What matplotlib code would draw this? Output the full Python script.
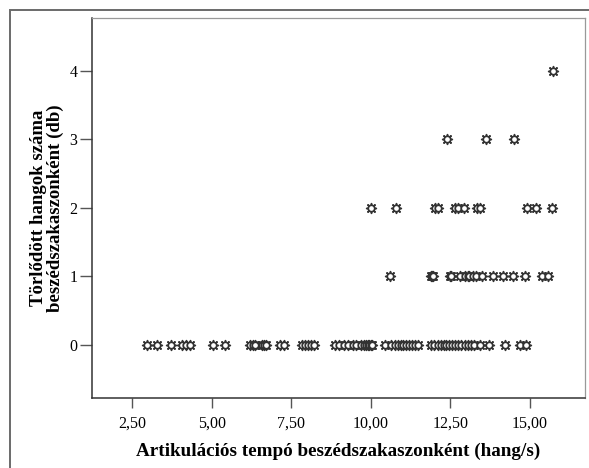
import matplotlib
matplotlib.use("Agg")
import matplotlib.pyplot as plt
from matplotlib.patches import Rectangle

# tempo (hang/s) of each speech segment, grouped by number of deleted sounds
x_del0 = [2.96, 3.28, 3.73, 4.07, 4.19, 4.32, 5.03, 5.43,
          6.21, 6.30, 6.36, 6.59, 6.65, 6.72, 7.16, 7.28,
          7.83, 7.95, 8.03, 8.11, 8.22,
          8.87, 9.00, 9.15, 9.30, 9.45, 9.55, 9.70, 9.80, 9.85, 9.90, 9.95, 10.00, 10.05,
          10.44, 10.65, 10.75, 10.85, 10.95, 11.00, 11.10, 11.20, 11.30, 11.40, 11.50,
          11.90, 12.00, 12.10, 12.20, 12.30, 12.35, 12.45, 12.55, 12.65, 12.75,
          12.85, 12.95, 13.05, 13.15, 13.25,
          13.43, 13.72, 14.22, 14.70, 14.88]
x_del1 = [10.62, 11.88, 11.92, 11.97, 12.48, 12.53, 12.80, 12.95, 13.06, 13.10,
          13.21, 13.32, 13.48, 13.84, 14.16, 14.47, 14.85, 15.37, 15.58]
x_del2 = [10.00, 10.78, 12.02, 12.12, 12.64, 12.74, 12.93, 13.33, 13.44,
          14.91, 15.18, 15.69]
x_del3 = [12.38, 13.61, 14.50]
x_del4 = [15.73]

groups = [(0, x_del0), (1, x_del1), (2, x_del2), (3, x_del3), (4, x_del4)]

xticks = [2.5, 5.0, 7.5, 10.0, 12.5, 15.0]
xtick_labels = ["2,50", "5,00", "7,50", "10,00", "12,50", "15,00"]
yticks = [0, 1, 2, 3, 4]

plt.rcParams["font.family"] = ["Liberation Serif", "DejaVu Serif"]

fig = plt.figure(figsize=(5.89, 4.68), dpi=100)
ax = fig.add_axes([0.1562, 0.1496, 0.9932 - 0.1562, 0.9615 - 0.1496])

mc = "#333333"
for yv, xs in groups:
    ys = [yv] * len(xs)
    # SPSS-like "gear" marker: 8-spoke asterisk under a small open circle
    ax.scatter(xs, ys, marker=(8, 2, 0), s=50, color=mc, linewidths=1.1, zorder=3)
    ax.scatter(xs, ys, marker="o", s=22, facecolor="white", edgecolor=mc,
               linewidths=1.3, zorder=4)

ax.set_xlim(1.244, 16.73)
ax.set_ylim(-0.773, 4.768)
ax.set_xticks(xticks)
ax.set_xticklabels(xtick_labels)
ax.set_yticks(yticks)

ax.tick_params(axis="x", length=7, width=1, color="#555555", labelsize=11.5, pad=6)
ax.tick_params(axis="y", length=8.5, width=1, color="#555555", labelsize=11.5, pad=2)

for side in ["left", "bottom"]:
    ax.spines[side].set_color("#333333")
    ax.spines[side].set_linewidth(1.1)
ax.spines["top"].set_color("#999999")
ax.spines["top"].set_linestyle((0, (1, 1)))
ax.spines["top"].set_linewidth(0.9)
ax.spines["right"].set_color("#999999")
ax.spines["right"].set_linewidth(0.9)

ax.set_xlabel("Artikulációs tempó beszédszakaszonként (hang/s)",
              fontsize=13.8, fontweight="bold", labelpad=8)
ax.set_ylabel("Törlődött hangok száma\nbeszédszakaszonként (db)",
              fontsize=13.5, fontweight="bold", labelpad=4, linespacing=0.95)

# outer frame around the whole chart
fig.patches.append(Rectangle((10 / 589, -0.02), 1.0, 1 - 10 / 468 + 0.02,
                             transform=fig.transFigure, fill=False,
                             edgecolor="#6a6a6a", linewidth=1.4))

fig.savefig("out.png", dpi=100)
